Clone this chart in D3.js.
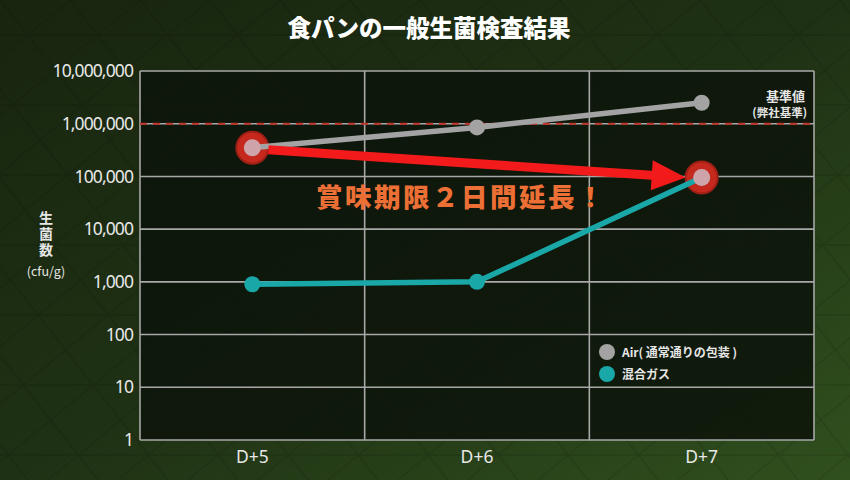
<!DOCTYPE html>
<html><head><meta charset="utf-8">
<script src="https://cdn.jsdelivr.net/npm/d3@7"></script>
<style>
html,body{margin:0;padding:0;background:#1a2810;}
svg{display:block;font-family:"Noto Sans CJK JP","Noto Sans",sans-serif;}
</style></head>
<body>
<svg id="chart" width="850" height="480"></svg>
<script>
const title = "食パンの一般生菌検査結果";
const categories = ["D+5", "D+6", "D+7"];
const airValues = [350000, 850000, 2500000];
const gasValues = [900, 1000, 95000];
const yTicks = [1, 10, 100, 1000, 10000, 100000, 1000000, 10000000];
const thresholdValue = 1000000;
const seriesNames = ["Air( 通常通りの包装 )", "混合ガス"];
const thresholdLabel = ["基準値", "(弊社基準)"];
const yAxisLabel = ["生菌数", "(cfu/g)"];
const calloutText = "賞味期限２日間延長！";
const arrowFrom = {cat: "D+5", value: airValues[0]};
const arrowTo = {cat: "D+7", value: gasValues[2]};

const W = 850, H = 480;
const m = {left: 140, right: 36, top: 71, bottom: 40};
const svg = d3.select("#chart");
const defs = svg.append("defs");

// background
const bg = defs.append("linearGradient").attr("id","bg").attr("x1","0").attr("y1","0").attr("x2","1").attr("y2","1");
bg.append("stop").attr("offset","0").attr("stop-color","#18250f");
bg.append("stop").attr("offset","0.5").attr("stop-color","#1f3114");
bg.append("stop").attr("offset","1").attr("stop-color","#30501e");
svg.append("rect").attr("width",W).attr("height",H).attr("fill","url(#bg)");
// subtle diagonal texture
const pat = defs.append("pattern").attr("id","tex").attr("width",70).attr("height",70)
  .attr("patternUnits","userSpaceOnUse").attr("patternTransform","skewX(-12)");
pat.append("path").attr("d","M0 0 L70 70 M0 70 L70 0 M0 35 L70 35").attr("stroke","#000").attr("stroke-opacity",0.12).attr("stroke-width",1.5);
svg.append("rect").attr("width",W).attr("height",H).attr("fill","url(#tex)");

const x = d3.scaleBand().domain(categories).range([m.left, W - m.right]);
const y = d3.scaleLog().domain([1, 10000000]).range([H - m.bottom, m.top]);
const cx = c => x(c) + x.bandwidth()/2;

// plot area
svg.append("rect").attr("x", m.left).attr("y", m.top)
  .attr("width", W - m.left - m.right).attr("height", H - m.top - m.bottom)
  .attr("fill", "#0d150a").attr("fill-opacity", 0.88);

// horizontal grid
svg.append("g").selectAll("line").data(yTicks).join("line")
  .attr("x1", m.left).attr("x2", W - m.right)
  .attr("y1", d => y(d)).attr("y2", d => y(d))
  .attr("stroke", "#a8a8a8").attr("stroke-width", 1.6);
// vertical grid (band boundaries)
const bounds = categories.map(c => x(c)).concat([x(categories[categories.length-1]) + x.bandwidth()]);
svg.append("g").selectAll("line").data(bounds).join("line")
  .attr("x1", d => d).attr("x2", d => d)
  .attr("y1", m.top).attr("y2", H - m.bottom)
  .attr("stroke", "#a8a8a8").attr("stroke-width", 1.6);

// y axis labels
const yAxis = d3.axisLeft(y).tickValues(yTicks).tickFormat(d3.format(",")).tickSize(0).tickPadding(7);
const ya = svg.append("g").attr("transform", `translate(${m.left},0)`).call(yAxis);
ya.select(".domain").remove();
ya.selectAll("text").attr("fill", "#e8e8e8").attr("font-size", 17.5)
  .attr("font-family", "'Noto Sans','Open Sans',sans-serif").attr("letter-spacing", -0.9);

// x axis labels
const xAxis = d3.axisBottom(x).tickSize(0).tickPadding(11);
const xa = svg.append("g").attr("transform", `translate(0,${H - m.bottom})`).call(xAxis);
xa.select(".domain").remove();
xa.selectAll("text").attr("fill", "#e8e8e8").attr("font-size", 17.5)
  .attr("font-family", "'Noto Sans','Open Sans',sans-serif");

// threshold
svg.append("line").attr("x1", m.left).attr("x2", W - m.right)
  .attr("y1", y(thresholdValue)).attr("y2", y(thresholdValue))
  .attr("stroke", "#c2332a").attr("stroke-width", 2).attr("stroke-dasharray", "7,6");
svg.append("text").attr("x", 805).attr("y", 101).attr("text-anchor","end")
  .attr("fill","#e6e6e6").attr("font-size",13).attr("font-weight","bold").text(thresholdLabel[0]);
svg.append("text").attr("x", 807).attr("y", 117).attr("text-anchor","end")
  .attr("fill","#e6e6e6").attr("font-size",11.5).attr("font-weight","bold").text(thresholdLabel[1]);

// y axis title (vertical)
svg.append("text").attr("x", 46).attr("y", 211).attr("text-anchor","start")
  .attr("writing-mode","vertical-rl").style("writing-mode","vertical-rl")
  .attr("letter-spacing", 2)
  .attr("fill","#e6e6e6").attr("font-size",14).attr("font-weight","bold").text(yAxisLabel[0]);
svg.append("text").attr("x", 46).attr("y", 276).attr("text-anchor","middle")
  .attr("fill","#e6e6e6").attr("font-size",12.5).text(yAxisLabel[1]);

// title
svg.append("text").attr("x", 429).attr("y", 37).attr("text-anchor","middle")
  .attr("fill","#ffffff").attr("font-size",23.5).attr("font-weight","900").text(title);

// series
const line = d3.line().x((d,i) => cx(categories[i])).y(d => y(d));
const series = [
  {name: seriesNames[0], values: airValues, color: "#a3a3a3"},
  {name: seriesNames[1], values: gasValues, color: "#1aa7a7"}
];

// highlight circles (drawn beneath the points)
[arrowFrom, arrowTo].forEach(p => {
  svg.append("circle").attr("cx", cx(p.cat)).attr("cy", y(p.value)).attr("r", 16)
    .attr("fill", "#c5281d").attr("stroke", "#9e1f15").attr("stroke-width", 2);
});

series.forEach(s => {
  svg.append("path").datum(s.values).attr("d", line).attr("fill","none")
    .attr("stroke", s.color).attr("stroke-width", 5.5).attr("stroke-linecap","round");
  svg.append("g").selectAll("circle").data(s.values).join("circle")
    .attr("cx", (d,i) => cx(categories[i])).attr("cy", d => y(d)).attr("r", 8)
    .attr("fill", s.color);
});

// highlighted inner dots
[arrowFrom, arrowTo].forEach(p => {
  svg.append("circle").attr("cx", cx(p.cat)).attr("cy", y(p.value)).attr("r", 8.5)
    .attr("fill", "#cfa3aa");
});

// arrow
const ax1 = cx(arrowFrom.cat) + 16, ay1 = y(arrowFrom.value) + 2;
const ax2 = cx(arrowTo.cat) - 16, ay2 = y(arrowTo.value);
const ang = Math.atan2(ay2 - ay1, ax2 - ax1);
const headLen = 34, headW = 15, shaft = 4.5;
const bx = ax2 - headLen*Math.cos(ang), by = ay2 - headLen*Math.sin(ang);
const nx = -Math.sin(ang), ny = Math.cos(ang);
const pts = [
  [ax1 + nx*shaft, ay1 + ny*shaft],
  [bx + nx*shaft, by + ny*shaft],
  [bx + nx*headW, by + ny*headW],
  [ax2, ay2],
  [bx - nx*headW, by - ny*headW],
  [bx - nx*shaft, by - ny*shaft],
  [ax1 - nx*shaft, ay1 - ny*shaft]
];
svg.append("path").attr("d", d3.line()(pts) + "Z").attr("fill", "#f21a1a");

// callout text
svg.append("text").attr("x", 461).attr("y", 207).attr("text-anchor","middle")
  .attr("fill","#ec7035").attr("font-size",26.5).attr("font-weight","900")
  .attr("letter-spacing", 2.5).text(calloutText);

// legend
series.forEach((s, i) => {
  const ly = 352 + i*22;
  svg.append("circle").attr("cx", 607).attr("cy", ly).attr("r", 8).attr("fill", s.color);
  svg.append("text").attr("x", 622).attr("y", ly + 4.5).attr("fill","#e6e6e6")
    .attr("font-size", 12).attr("font-weight","bold").text(s.name);
});
</script>
</body></html>
